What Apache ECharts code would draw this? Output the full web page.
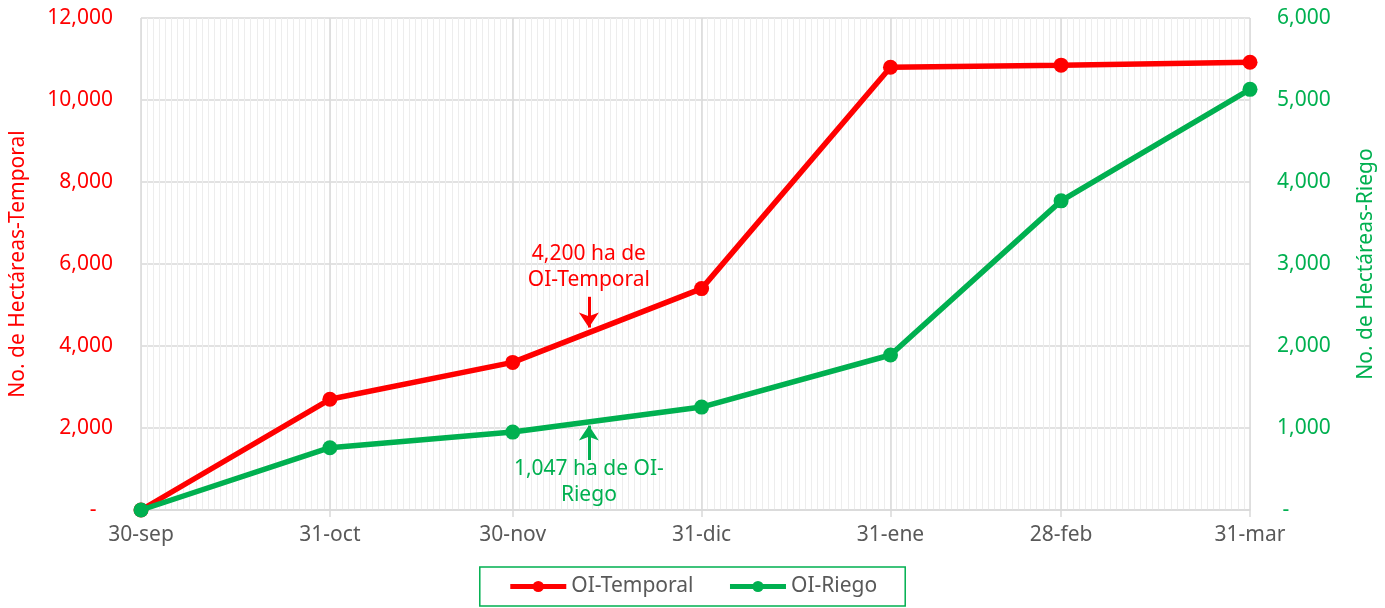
<!DOCTYPE html>
<html>
<head>
<meta charset="utf-8">
<script src="https://cdn.jsdelivr.net/npm/echarts@6/dist/echarts.min.js"></script>
<style>
  html, body { margin: 0; padding: 0; background: #fff; }
  #chart { width: 1385px; height: 608px; }
</style>
</head>
<body>
<div id="chart"></div>
<script>
// fechas de corte (eje x)
var dates = ['2022-09-30', '2022-10-31', '2022-11-30', '2022-12-31', '2023-01-31', '2023-02-28', '2023-03-31']
var dateLabels = ['30-sep', '31-oct', '30-nov', '31-dic', '31-ene', '28-feb', '31-mar']

// hectáreas acumuladas
var temporal = [0, 2700, 3600, 5400, 10800, 10850, 10920]
var riego = [0, 760, 950, 1255, 1890, 3770, 5130]

// anotaciones (día desde 30-sep, valor inicio, valor fin de flecha)
var noteTemporal = { day: 73.5, from: 5200, to: 4450, text: '4,200 ha de\nOI-Temporal' }
var noteRiego = { day: 73.5, from: 610, to: 1030, text: '1,047 ha de OI-\nRiego' }

var RED = '#ff0000'
var GREEN = '#00b050'
var GRAY_TEXT = '#595959'
var FONT = 'Noto Sans'

var t0 = Date.UTC(2022, 8, 30)
function dayOf(s) {
  var p = s.split('-')
  return Math.round((Date.UTC(+p[0], +p[1] - 1, +p[2]) - t0) / 86400000)
}
var days = dates.map(dayOf)
var lastDay = days[days.length - 1]

function pairs(vals) {
  return vals.map(function(v, i) { return [days[i], v] })
}
function fmt(v) {
  if (v === 0) return '-'
  return v.toString().replace(/\B(?=(\d{3})+(?!\d))/g, ',')
}

var chart = echarts.init(document.getElementById('chart'))
var option = {
  animation: false,
  textStyle: { fontFamily: FONT },
  grid: { left: 141, right: 134, top: 18, bottom: 98 },
  xAxis: [
    {
      // rejilla diaria
      type: 'value',
      position: 'top',
      min: 0,
      max: lastDay,
      interval: 1,
      axisLine: { show: false },
      axisTick: { show: false },
      axisLabel: { show: false },
      splitLine: { show: true, lineStyle: { color: '#ededed', width: 1 } }
    },
    {
      type: 'value',
      position: 'bottom',
      min: 0,
      max: lastDay,
      axisLine: { show: true, lineStyle: { color: '#d9d9d9', width: 1.5 } },
      axisTick: { show: true, length: 7, customValues: days, lineStyle: { color: '#d9d9d9', width: 1.5 } },
      axisLabel: {
        customValues: days,
        color: GRAY_TEXT,
        fontSize: 21,
        margin: 15,
        fontFamily: FONT,
        formatter: function(v) {
          var i = days.indexOf(v)
          return i >= 0 ? dateLabels[i] : ''
        }
      },
      splitLine: { show: true, lineStyle: { color: '#d9d9d9', width: 1.5 } }
    }
  ],
  yAxis: [
    {
      type: 'value',
      min: 0,
      max: 12000,
      interval: 2000,
      name: 'No. de Hectáreas-Temporal',
      nameLocation: 'middle',
      nameGap: 112,
      nameTextStyle: { color: RED, fontSize: 21, fontFamily: FONT },
      axisLine: { show: false },
      axisTick: { show: false },
      axisLabel: {
        color: RED,
        fontSize: 21,
        margin: 28,
        fontFamily: FONT,
        formatter: function(v) { return v === 0 ? '-   ' : fmt(v) }
      },
      splitLine: { show: true, lineStyle: { color: '#d9d9d9', width: 1.5 } }
    },
    {
      type: 'value',
      min: 0,
      max: 6000,
      interval: 1000,
      position: 'right',
      name: 'No. de Hectáreas-Riego',
      nameLocation: 'middle',
      nameGap: 106,
      nameTextStyle: { color: GREEN, fontSize: 21, fontFamily: FONT },
      axisLine: { show: false },
      axisTick: { show: false },
      axisLabel: {
        color: GREEN,
        fontSize: 21,
        margin: 27,
        fontFamily: FONT,
        formatter: function(v) { return v === 0 ? ' -' : fmt(v) }
      },
      splitLine: { show: false }
    }
  ],
  legend: {
    left: 'center',
    top: 567,
    padding: [9, 28, 9, 28],
    borderColor: GREEN,
    borderWidth: 1.5,
    itemWidth: 56,
    itemHeight: 14,
    itemGap: 34,
    lineStyle: { width: 5 },
    textStyle: { color: GRAY_TEXT, fontSize: 21, fontFamily: FONT },
    data: ['OI-Temporal', 'OI-Riego']
  },
  series: [
    {
      name: 'OI-Temporal',
      type: 'line',
      xAxisIndex: 1,
      yAxisIndex: 0,
      data: pairs(temporal),
      symbol: 'circle',
      symbolSize: 15,
      lineStyle: { color: RED, width: 5.5 },
      itemStyle: { color: RED },
      z: 3,
      markLine: {
        silent: true,
        symbol: ['none', 'arrow'],
        symbolSize: 15,
        lineStyle: { color: RED, width: 3, type: 'solid' },
        label: {
          show: true,
          position: 'start',
          distance: 4,
          color: RED,
          fontSize: 21,
          lineHeight: 26,
          fontFamily: FONT,
          formatter: noteTemporal.text
        },
        data: [[
          { coord: [noteTemporal.day, noteTemporal.from] },
          { coord: [noteTemporal.day, noteTemporal.to] }
        ]]
      }
    },
    {
      name: 'OI-Riego',
      type: 'line',
      xAxisIndex: 1,
      yAxisIndex: 1,
      data: pairs(riego),
      symbol: 'circle',
      symbolSize: 15,
      lineStyle: { color: GREEN, width: 5.5 },
      itemStyle: { color: GREEN },
      z: 4,
      markLine: {
        silent: true,
        symbol: ['none', 'arrow'],
        symbolSize: 15,
        lineStyle: { color: GREEN, width: 3, type: 'solid' },
        label: {
          show: true,
          position: 'start',
          distance: -4,
          color: GREEN,
          fontSize: 21,
          lineHeight: 26,
          fontFamily: FONT,
          formatter: noteRiego.text
        },
        data: [[
          { coord: [noteRiego.day, noteRiego.from] },
          { coord: [noteRiego.day, noteRiego.to] }
        ]]
      }
    }
  ]
}
chart.setOption(option)
</script>
</body>
</html>
